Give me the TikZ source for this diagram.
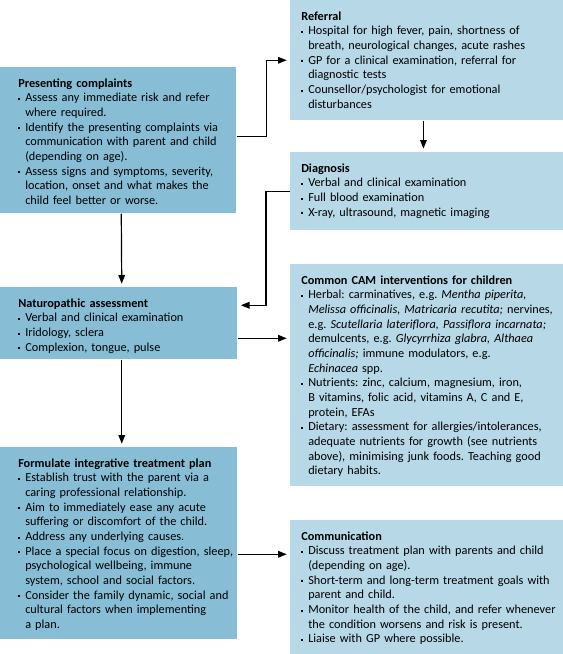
\documentclass[tikz,border=0pt]{standalone}
\usepackage{fontspec}
\setmainfont{Carlito}
\usetikzlibrary{arrows.meta}

\definecolor{darkblue}{RGB}{135,190,214}
\definecolor{lightblue}{RGB}{183,216,231}

\newcommand{\bul}{\makebox[5.25pt][l]{\rule[1.4pt]{1.6pt}{1.6pt}}}
\newcommand{\boxhead}[1]{\multicolumn{2}{@{}l@{}}{\textbf{#1}}}

\tikzset{
  stage/.style={anchor=north west, inner ysep=0pt, text height=15pt, align=left, font=\fontsize{9.2}{11}\selectfont\frenchspacing},
  leftstage/.style={stage, fill=darkblue, inner xsep=13.5pt},
  rightstage/.style={stage, fill=lightblue, inner xsep=8.25pt, text width=188.25pt},
  flow/.style={line width=0.9pt, -{Triangle[length=6.5pt,width=5pt]}, shorten >=2.5pt}
}

\begin{document}
\begin{tikzpicture}[x=0.75pt,y=0.75pt,yscale=-1,xscale=1]
\useasboundingbox (0,0) rectangle (563,654);

%Box: presenting complaints
\node [leftstage, text width=150pt, text depth=94.5pt] (pres) at (0,67) {\begin{tabular}[t]{@{}l@{}l@{}}
\boxhead{Presenting complaints}\\
\bul & Assess any immediate risk and refer\\
     & where required.\\
\bul & Identify the presenting complaints via\\
     & communication with parent and child\\
     & (depending on age).\\
\bul & Assess signs and symptoms, severity,\\
     & location, onset and what makes the\\
     & child feel better or worse.
\end{tabular}};

%Box: naturopathic assessment
\node [leftstage, text width=150.75pt, text depth=39pt] (natur) at (0,287) {\begin{tabular}[t]{@{}l@{}l@{}}
\boxhead{Naturopathic assessment}\\
\bul & Verbal and clinical examination\\
\bul & Iridology, sclera\\
\bul & Complexion, tongue, pulse
\end{tabular}};

%Box: treatment plan
\node [leftstage, text width=150.75pt, text depth=129pt] (plan) at (0,447) {\begin{tabular}[t]{@{}l@{}l@{}}
\boxhead{Formulate integrative treatment plan}\\
\bul & Establish trust with the parent via a\\
     & caring professional relationship.\\
\bul & Aim to immediately ease any acute\\
     & suffering or discomfort of the child.\\
\bul & Address any underlying causes.\\
\bul & Place a special focus on digestion, sleep,\\
     & psychological wellbeing, immune\\
     & system, school and social factors.\\
\bul & Consider the family dynamic, social and\\
     & cultural factors when implementing\\
     & a plan.
\end{tabular}};

%Box: referral
\node [rightstage, text depth=75pt] (refer) at (290,0) {\begin{tabular}[t]{@{}l@{}l@{}}
\boxhead{Referral}\\
\bul & Hospital for high fever, pain, shortness of\\
     & breath, neurological changes, acute rashes\\
\bul & GP for a clinical examination, referral for\\
     & diagnostic tests\\
\bul & Counsellor/psychologist for emotional\\
     & disturbances
\end{tabular}};

%Box: diagnosis
\node [rightstage, text depth=43.5pt] (diag) at (290,152) {\begin{tabular}[t]{@{}l@{}l@{}}
\boxhead{Diagnosis}\\
\bul & Verbal and clinical examination\\
\bul & Full blood examination\\
\bul & X-ray, ultrasound, magnetic imaging
\end{tabular}};

%Box: CAM interventions
\node [rightstage, text depth=151.5pt] (cam) at (290,264) {\begin{tabular}[t]{@{}l@{}l@{}}
\boxhead{Common CAM interventions for children}\\
\bul & Herbal: carminatives, e.g. \textit{Mentha piperita,}\\
     & \textit{Melissa officinalis, Matricaria recutita;} nervines,\\
     & e.g. \textit{Scutellaria lateriflora, Passiflora incarnata;}\\
     & demulcents, e.g. \textit{Glycyrrhiza glabra, Althaea}\\
     & \textit{officinalis;} immune modulators, e.g.\\
     & \textit{Echinacea} spp.\\
\bul & Nutrients: zinc, calcium, magnesium, iron,\\
     & B vitamins, folic acid, vitamins A, C and E,\\
     & protein, EFAs\\
\bul & Dietary: assessment for allergies/intolerances,\\
     & adequate nutrients for growth (see nutrients\\
     & above), minimising junk foods. Teaching good\\
     & dietary habits.
\end{tabular}};

%Box: communication
\node [rightstage, text depth=85.5pt] (comm) at (290,520) {\begin{tabular}[t]{@{}l@{}l@{}}
\boxhead{Communication}\\
\bul & Discuss treatment plan with parents and child\\
     & (depending on age).\\
\bul & Short-term and long-term treatment goals with\\
     & parent and child.\\
\bul & Monitor health of the child, and refer whenever\\
     & the condition worsens and risk is present.\\
\bul & Liaise with GP where possible.
\end{tabular}};

%Arrows
\draw [flow] ([yshift=-3pt]pres.east) -- ++(30,0) |- (refer.west);
\draw [flow] ([xshift=-2.5pt]refer.south) -- ([xshift=-2.5pt]diag.north);
\coordinate (d2n) at ([yshift=-13.5pt]natur.east);
\draw [flow] (diag.west) -- ++(-24,0) |- (d2n);
\draw [flow] ([xshift=2.25pt]pres.south) -- ([xshift=2.25pt]natur.north);
\coordinate (n2c) at ([yshift=11.25pt]natur.east);
\draw [flow] (n2c) -- (n2c -| cam.west);
\draw [flow] ([xshift=2.25pt]natur.south) -- ([xshift=2.25pt]plan.north);
\coordinate (p2c) at ([yshift=8.25pt]plan.east);
\draw [flow] (p2c) -- (p2c -| comm.west);

\end{tikzpicture}
\end{document}
